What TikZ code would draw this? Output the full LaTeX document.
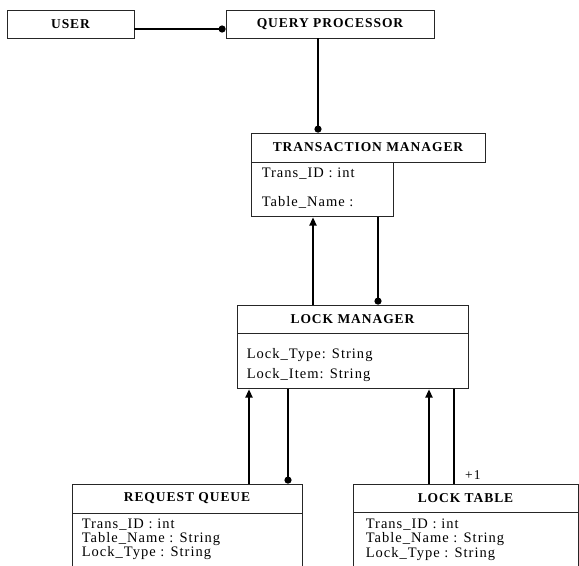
\documentclass[tikz,border=0pt]{standalone}
\usepackage{fontspec}
\setmainfont{Liberation Serif}[LetterSpace=7]
\usetikzlibrary{arrows.meta,calc}

\begin{document}
\begin{tikzpicture}[x=1bp,y=-1bp,
    box/.style={draw=black!85,line width=0.8bp,inner sep=0pt},
    head/.style={box,minimum height=28bp,font=\fontsize{13.5bp}{16bp}\selectfont\bfseries},
    attr/.style={anchor=base west,align=left,inner sep=0pt,font=\fontsize{14.5bp}{14bp}\selectfont},
    conn/.style={line width=2.6bp},
    dotend/.style={-{Circle[length=7bp]}},
    upend/.style={-{Triangle[length=8.5bp,width=7bp]}}]

\clip (0,0) rectangle (579,566);
\fill[white] (0,0) rectangle (579,566);

    \begin{scope} % Classes (text anchored at the baseline of its last line)
        \node[head,minimum width=127bp] (user) at (70.5,24) {USER};
        \node[head,minimum width=208bp] (qp) at (330,24) {QUERY PROCESSOR};

        \node[head,minimum width=234bp,minimum height=29bp] (tmh) at (368,147.5) {TRANSACTION MANAGER};
        \node[box,anchor=north west,minimum width=142bp,minimum height=54bp] (tma) at (tmh.south west) {};
        \node[attr] (tmtxt) at ([shift={(11,44)}]tma.north west) {Trans\_ID : int\\[15bp]Table\_Name :};

        \node[head,minimum width=231bp] (lmh) at (352.5,319) {LOCK MANAGER};
        \node[box,anchor=north west,minimum width=231bp,minimum height=55bp] (lma) at (lmh.south west) {};
        \node[attr] (lmtxt) at ([shift={(10,45)}]lma.north west) {Lock\_Type: String\\[6bp]Lock\_Item: String};

        \node[head,minimum width=230bp,minimum height=29bp] (rqh) at (187,498.5) {REQUEST QUEUE};
        \node[box,anchor=north west,minimum width=230bp,minimum height=70bp] (rqa) at (rqh.south west) {};
        \node[attr] (rqtxt) at ([shift={(10,43)}]rqa.north west) {Trans\_ID : int\\Table\_Name : String\\Lock\_Type : String};

        \node[head,minimum width=225bp] (lth) at (465.5,498) {LOCK TABLE};
        \node[box,anchor=north west,minimum width=225bp,minimum height=70bp] (lta) at (lth.south west) {};
        \node[attr,font=\fontsize{14.5bp}{14.5bp}\selectfont] (lttxt) at ([shift={(13,45)}]lta.north west) {Trans\_ID : int\\Table\_Name : String\\Lock\_Type : String};
    \end{scope}

    \begin{scope} % Connectors
        \draw[conn,dotend] ([shift={(0,5)}]user.east) -- ([shift={(0,5)}]qp.west);
        \draw[conn,dotend] ([shift={(-12,0)}]qp.south) -- ([shift={(-12,0)}]qp.south |- tmh.north);

        \draw[conn,upend] ([shift={(-39.5,0)}]lmh.north) -- ([shift={(-39.5,0)}]lmh.north |- tma.south);
        \draw[conn,dotend] ([shift={(25.5,0)}]lmh.north |- tma.south) -- ([shift={(25.5,0)}]lmh.north);

        \draw[conn,upend] ([shift={(62,0)}]rqh.north) -- ([shift={(62,0)}]rqh.north |- lma.south);
        \draw[conn,dotend] ([shift={(101,0)}]rqh.north |- lma.south) -- ([shift={(101,0)}]rqh.north);

        \draw[conn,upend] ([shift={(-36.5,0)}]lth.north) -- ([shift={(-36.5,0)}]lth.north |- lma.south);
        \coordinate (ltin) at ([shift={(-11.5,0)}]lth.north);
        \draw[conn] (ltin |- lma.south) -- (ltin);
        \node[anchor=south west,inner sep=0pt,font=\fontsize{13.5bp}{14bp}\selectfont] (plusone) at ([shift={(11,-4)}]ltin) {+1};
    \end{scope}

\end{tikzpicture}
\end{document}
